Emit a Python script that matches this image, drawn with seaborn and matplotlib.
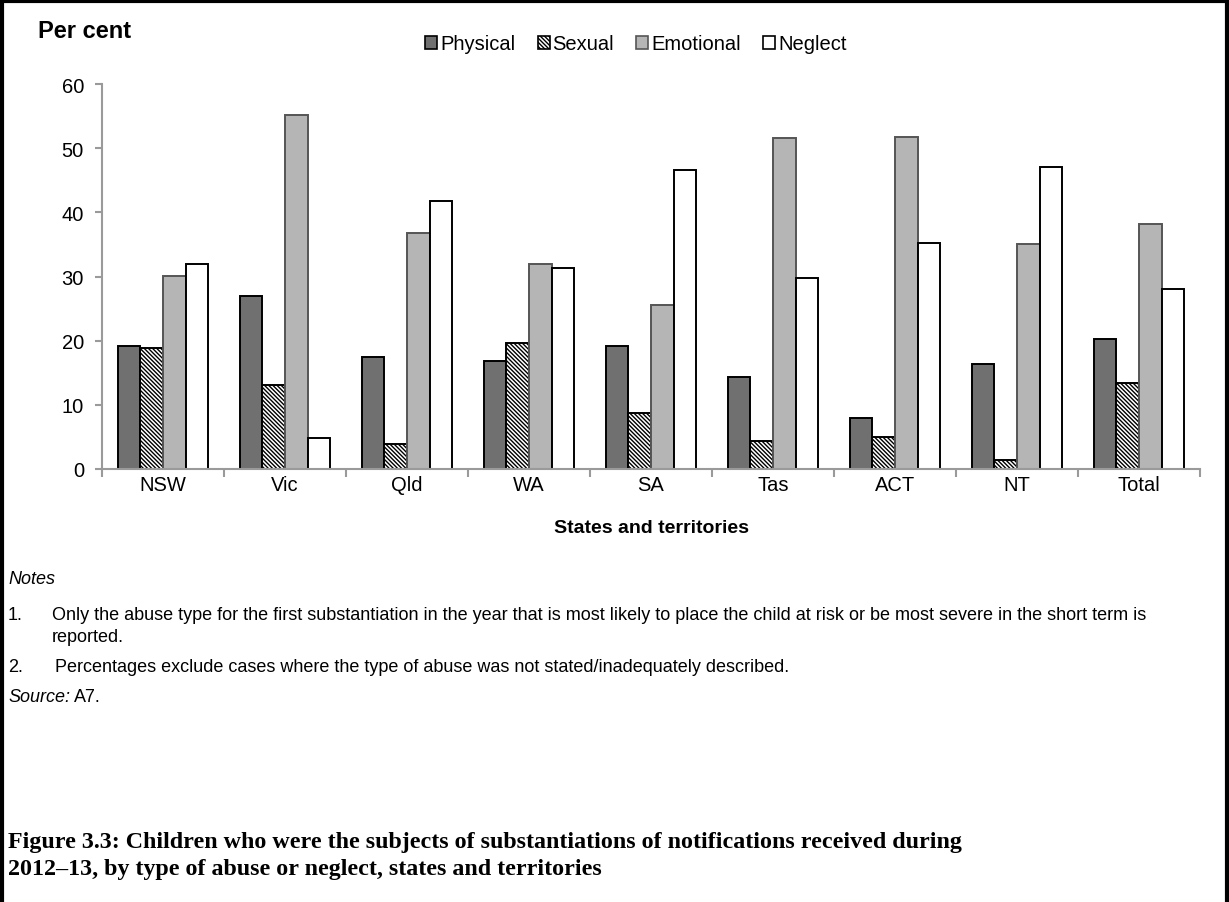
import matplotlib
matplotlib.use("Agg")
import matplotlib.pyplot as plt
import seaborn as sns
import pandas as pd
from matplotlib.patches import Patch
from matplotlib.lines import Line2D

states = ["NSW", "Vic", "Qld", "WA", "SA", "Tas", "ACT", "NT", "Total"]
abuse_types = ["Physical", "Sexual", "Emotional", "Neglect"]
physical = [19.2, 27.0, 17.5, 16.9, 19.1, 14.3, 8.0, 16.4, 20.3]
sexual = [18.9, 13.1, 3.9, 19.7, 8.8, 4.3, 5.0, 1.4, 13.4]
emotional = [30.1, 55.1, 36.8, 32.0, 25.5, 51.6, 51.8, 35.1, 38.2]
neglect = [31.9, 4.8, 41.8, 31.4, 46.6, 29.8, 35.2, 47.1, 28.0]
yticks = [0, 10, 20, 30, 40, 50, 60]

series = {"Physical": physical, "Sexual": sexual, "Emotional": emotional, "Neglect": neglect}
rows = []
for t in abuse_types:
    for s, v in zip(states, series[t]):
        rows.append({"State": s, "Type": t, "Value": v})
df = pd.DataFrame(rows)

sns.set_theme(style="white")
plt.rcParams["font.family"] = ["Liberation Sans", "DejaVu Sans"]
plt.rcParams["hatch.color"] = "black"
plt.rcParams["hatch.linewidth"] = 1.0
plt.rcParams["text.color"] = "black"
plt.rcParams["axes.labelcolor"] = "black"
plt.rcParams["xtick.color"] = "black"
plt.rcParams["ytick.color"] = "black"

W, H = 1229, 903
fig = plt.figure(figsize=(W / 100, H / 100), dpi=100)
fig.patch.set_facecolor("white")

def fx(px):
    return px / W

def fy(py):
    return 1 - py / H

ax_left, ax_right, ax_top, ax_bottom = 102, 1200, 85, 470
ax = fig.add_axes([fx(ax_left), fy(ax_bottom), fx(ax_right - ax_left), (ax_bottom - ax_top) / H])

fills = {"Physical": "#707070", "Sexual": "white", "Emotional": "#b5b5b5", "Neglect": "white"}
sns.barplot(data=df, x="State", y="Value", hue="Type", hue_order=abuse_types,
            order=states, palette=fills, width=0.74, legend=False, ax=ax,
            saturation=1, errorbar=None)

edge = {"Physical": "black", "Sexual": "black", "Emotional": "#555555", "Neglect": "black"}
hatch = {"Physical": None, "Sexual": "\\\\\\\\\\\\\\\\", "Emotional": None, "Neglect": None}
for t, cont in zip(abuse_types, ax.containers):
    for p in cont.patches:
        p.set_edgecolor(edge[t])
        p.set_linewidth(1.4)
        if hatch[t]:
            p.set_hatch(hatch[t])

ax.set_xlim(-0.5, len(states) - 0.5)
ax.set_ylim(0, 60)
ax.set_yticks(yticks)
ax.set_yticklabels([str(v) for v in yticks], fontsize=14.5)
ax.set_xticks(range(len(states)))
ax.set_xticklabels(states, fontsize=14.5)
ax.set_xticks([i - 0.5 for i in range(len(states) + 1)], minor=True)
ax.tick_params(axis="x", which="major", length=0, pad=4, colors="black")
ax.tick_params(axis="x", which="minor", length=6, width=1.5, color="#9a9a9a", direction="out", bottom=True)
ax.tick_params(axis="y", which="major", length=5, width=1.5, color="#9a9a9a", direction="out", left=True, pad=8)
for s in ["top", "right"]:
    ax.spines[s].set_visible(False)
for s in ["left", "bottom"]:
    ax.spines[s].set_color("#9a9a9a")
    ax.spines[s].set_linewidth(1.5)
ax.set_ylabel("")
ax.set_xlabel("States and territories", fontsize=14, fontweight="bold", labelpad=18)
ax.grid(False)

fig.text(fx(38), fy(32), "Per cent", fontsize=17, fontweight="bold", va="center", ha="left")

handles = []
for t in abuse_types:
    handles.append(Patch(facecolor=fills[t], edgecolor="black" if t != "Emotional" else "#555555",
                         hatch=hatch[t], linewidth=1.2))
fig.legend(handles, abuse_types, loc="center", bbox_to_anchor=(fx(636), fy(45)), ncol=4,
           frameon=False, fontsize=14.5, handlelength=0.6, handleheight=0.6,
           handletextpad=0.15, columnspacing=1.1, borderaxespad=0)

fs_note = 13
fig.text(fx(8), fy(580), "Notes", fontsize=fs_note, style="italic", va="center")
fig.text(fx(8), fy(615), "1.", fontsize=fs_note, va="center")
fig.text(fx(52), fy(615), "Only the abuse type for the first substantiation in the year that is most likely to place the child at risk or be most severe in the short term is",
         fontsize=fs_note, va="center")
fig.text(fx(52), fy(637), "reported.", fontsize=fs_note, va="center")
fig.text(fx(8), fy(667), "2.", fontsize=fs_note, va="center")
fig.text(fx(55), fy(667), "Percentages exclude cases where the type of abuse was not stated/inadequately described.",
         fontsize=fs_note, va="center")
src = fig.text(fx(8), fy(697), "Source:", fontsize=fs_note, style="italic", va="center")
ax.annotate("A7.", xy=(1, 0.5), xycoords=src, xytext=(2.5, 0), textcoords="offset points",
            fontsize=fs_note, va="center", ha="left", annotation_clip=False)

title_kw = dict(fontsize=17.3, fontweight="bold", family=["Liberation Serif", "DejaVu Serif"], va="center")
fig.text(fx(8), fy(843), "Figure 3.3: Children who were the subjects of substantiations of notifications received during", **title_kw)
fig.text(fx(8), fy(870), "2012\u201313, by type of abuse or neglect, states and territories", **title_kw)

for (x0, y0, x1, y1) in [(2, 1, 2, 903), (0, 1.5, 1229, 1.5), (1227, 0, 1227, 903)]:
    fig.add_artist(Line2D([fx(x0), fx(x1)], [fy(y0), fy(y1)], color="black", linewidth=3,
                          transform=fig.transFigure))

fig.savefig("out.png", dpi=100, facecolor="white")
